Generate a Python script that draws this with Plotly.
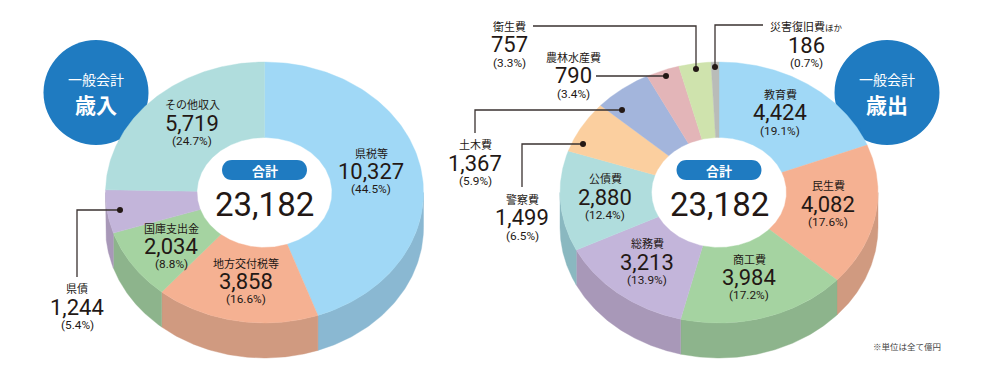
import numpy as np
import plotly.graph_objects as go

# ---------- data ----------
total = 23182
rev_categories = ["県税等", "地方交付税等", "国庫支出金", "県債", "その他収入"]
rev_values = [10327, 3858, 2034, 1244, 5719]
rev_percents = [44.5, 16.6, 8.8, 5.4, 24.7]

exp_categories = ["教育費", "民生費", "商工費", "総務費", "公債費", "警察費", "土木費", "農林水産費", "衛生費", "災害復旧費<span style=\"font-size:8.5px\">ほか</span>"]
exp_values = [4424, 4082, 3984, 3213, 2880, 1499, 1367, 790, 757, 186]
exp_percents = [19.1, 17.6, 17.2, 13.9, 12.4, 6.5, 5.9, 3.4, 3.3, 0.7]

# ---------- styles ----------
rev_colors = ["#a0d8f6", "#f5b192", "#a5d3a1", "#c3b5da", "#b0dddd"]
rev_sides = ["#8ab8d2", "#d09a80", "#8db48c", "#a898b8", "#8ab8c0"]
exp_colors = ["#a0d8f6", "#f5b192", "#a5d3a1", "#c3b5da", "#b0dddd", "#fbcf9f", "#a3b5dc", "#e3b5b8", "#cfe3ad", "#b9bcb8"]
exp_sides = ["#8ab8d2", "#d09a80", "#8db48c", "#a898b8", "#8ab8c0", "#d0a880", "#8a98b8", "#c09a9c", "#aabf90", "#9a9c98"]

BLUE = "#1f7bc1"
INK = "#231815"
LINE = "#3a3230"
CJK = "Noto Sans CJK JP"
NUM = "Roboto"

RX, RY, HX, HY, DEPTH = 159, 130.5, 67.5, 55, 35
CY = 192.5
REV_CX, EXP_CX = 264.5, 719

# label anchors: (x, label y, number y, percent y)
rev_labels = [(371, 153, 171, 189), (246, 263, 281, 299), (171, 228, 246, 264), (77, 288, 307, 325), (192, 104, 123, 141)]
exp_labels = [(780, 94, 112, 131), (828, 185, 204, 222), (749, 259, 277, 295), (647, 243, 262, 280), (605, 178, 197, 215),
              (522, 199, 217, 236), (475, 144, 163, 181), (573, 57, 75, 94), (509, 26, 44, 63), (806, 26, 45, 63)]
# leader lines: elbow paths ending in a dot
leaders = [
    [(77, 277), (77, 210), (120, 210)],
    [(533, 26), (696, 26), (696, 69)],
    [(596, 76), (666, 76)],
    [(475, 133), (475, 110), (622, 110)],
    [(522, 187), (522, 144), (583, 144)],
    [(763, 25), (715, 25), (715, 67)],
]

fig = go.Figure()


def poly(xs, ys, color):
    fig.add_trace(go.Scatter(x=xs, y=ys, mode="lines", fill="toself", fillcolor=color,
                             line=dict(color=color, width=0.4), hoverinfo="skip", showlegend=False))


def donut(values, colors, sides, cx):
    fr = np.cumsum([0] + list(values)) / sum(values) * 2 * np.pi
    # side walls
    for i in range(len(values)):
        a0, a1 = max(fr[i], np.pi / 2), min(fr[i + 1], 3 * np.pi / 2)
        if a1 > a0:
            t = np.linspace(a0, a1, 80)
            x = cx + RX * np.sin(t)
            y = CY - RY * np.cos(t)
            poly(np.r_[x, x[::-1], x[0]], np.r_[y, y[::-1] + DEPTH, y[0]], sides[i])
    # top faces
    for i in range(len(values)):
        t = np.linspace(fr[i], fr[i + 1], 120)
        xo, yo = cx + RX * np.sin(t), CY - RY * np.cos(t)
        xi, yi = cx + HX * np.sin(t), CY - HY * np.cos(t)
        poly(np.r_[xo, xi[::-1], xo[0]], np.r_[yo, yi[::-1], yo[0]], colors[i])


donut(rev_values, rev_colors, rev_sides, REV_CX)
donut(exp_values, exp_colors, exp_sides, EXP_CX)

for path in leaders:
    xs, ys = zip(*path)
    fig.add_trace(go.Scatter(x=xs, y=ys, mode="lines", line=dict(color=LINE, width=1.3),
                             hoverinfo="skip", showlegend=False))
    fig.add_trace(go.Scatter(x=[xs[-1]], y=[ys[-1]], mode="markers", marker=dict(color=INK, size=6),
                             hoverinfo="skip", showlegend=False))

ann = []


def text(x, y, s, size, family=CJK, color=INK, weight=400):
    ann.append(dict(x=x, y=y, xref="x", yref="y", text=s, showarrow=False, xanchor="center", yanchor="middle",
                    font=dict(family=family, size=size, color=color, weight=weight)))


def labels(cats, vals, pcts, pos):
    for c, v, p, (x, y1, y2, y3) in zip(cats, vals, pcts, pos):
        text(x, y1, c, 11)
        text(x, y2, f"{v:,}", 22, NUM)
        text(x, y3, f"({p}%)", 11.8, NUM)


labels(rev_categories, rev_values, rev_percents, rev_labels)
labels(exp_categories, exp_values, exp_percents, exp_labels)

shapes = []
for cx, bx, title, tail in [(REV_CX, 96, "歳入", 1), (EXP_CX, 887, "歳出", -1)]:
    shapes.append(dict(type="circle", layer="below", xref="x", yref="y", x0=bx - 52.5, x1=bx + 52.5, y0=40, y1=145,
                       fillcolor=BLUE, line=dict(width=0)))
    tx = bx + tail * 22
    shapes.append(dict(type="path", layer="below", xref="x", yref="y",
                       path=f"M {bx + tail * 50} 110 L {tx} 143 L {bx + tail * 30} 120 Z",
                       fillcolor=BLUE, line=dict(width=0)))
    text(bx, 79, "一般会計", 14)
    ann[-1]["font"]["color"] = "white"
    text(bx, 103.5, f"<b>{title}</b>", 21, CJK, "white")
    # centre pill
    x0, x1 = cx - 42.5, cx + 42.5
    shapes.append(dict(type="path", layer="above", xref="x", yref="y",
                       path=f"M {x0 + 10} 160 L {x1 - 10} 160 C {x1 + 3.3} 160 {x1 + 3.3} 180 {x1 - 10} 180 "
                            f"L {x0 + 10} 180 C {x0 - 3.3} 180 {x0 - 3.3} 160 {x0 + 10} 160 Z",
                       fillcolor=BLUE, line=dict(width=0)))
    text(cx, 170, "<b>合計</b>", 13, CJK, "white")
    text(cx, 204, f"{total:,}", 33, NUM)

text(906.5, 346, "※単位は全て億円", 8.5, CJK, "#444444")

fig.update_layout(
    width=1000, height=373, margin=dict(l=0, r=0, t=0, b=0),
    paper_bgcolor="white", plot_bgcolor="white",
    xaxis=dict(range=[0, 1000], visible=False, fixedrange=True),
    yaxis=dict(range=[373, 0], visible=False, fixedrange=True),
    shapes=shapes, annotations=ann, showlegend=False,
)
fig.write_html("out.html", config={"displayModeBar": False},
               post_script="document.body.style.margin='0';document.documentElement.style.overflow='hidden';")
